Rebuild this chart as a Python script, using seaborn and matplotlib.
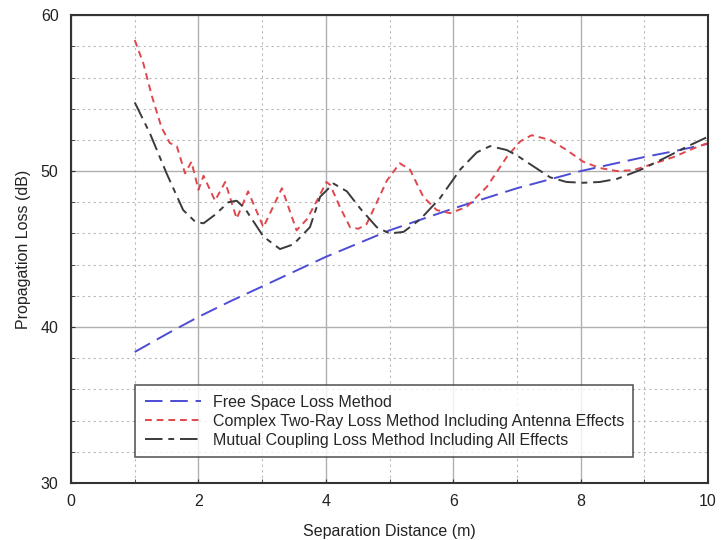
import numpy as np
import pandas as pd
import matplotlib
matplotlib.use("Agg")
import matplotlib.pyplot as plt
from matplotlib.ticker import MultipleLocator
import seaborn as sns

# 读取自图片的数据
free_x = [1.0, 1.5, 2.0, 2.5, 3.0, 3.5, 4.0, 4.5, 5.0, 5.5, 6.0, 6.5, 7.0, 7.5, 8.0, 8.5, 9.0, 9.5, 10.0]
free_y = [38.4, 39.55, 40.65, 41.65, 42.6, 43.55, 44.5, 45.35, 46.2, 46.9, 47.6, 48.25, 48.9, 49.45, 50.0, 50.45, 50.9, 51.3, 51.75]

two_ray_x = [1.0, 1.135, 1.27, 1.42, 1.55, 1.66, 1.79, 1.89, 2.0, 2.08, 2.26, 2.42, 2.6, 2.78, 3.02,
             3.31, 3.54, 3.7, 3.86, 4.01, 4.07, 4.22, 4.38, 4.51, 4.64, 4.96, 5.16, 5.32, 5.53,
             5.74, 5.95, 6.21, 6.53, 6.84, 7.05, 7.23, 7.52, 7.78, 8.04, 8.3, 8.57, 8.83, 9.09,
             9.46, 9.77, 10.0]
two_ray_y = [58.4, 56.9, 54.8, 52.8, 51.8, 51.6, 49.85, 50.6, 48.8, 49.7, 48.1, 49.3, 46.95, 48.7, 46.4,
             48.9, 46.2, 46.9, 48.1, 49.3, 49.1, 47.7, 46.4, 46.3, 46.6, 49.4, 50.5, 50.1, 48.35,
             47.5, 47.3, 47.7, 49.0, 50.9, 51.9, 52.3, 52.0, 51.35, 50.6, 50.2, 50.0, 50.06, 50.4,
             50.9, 51.45, 51.8]

coupling_x = [1.0, 1.24, 1.5, 1.76, 1.95, 2.08, 2.26, 2.47, 2.6, 2.73, 3.02, 3.28, 3.49, 3.75,
              3.91, 4.12, 4.33, 4.54, 4.8, 5.0, 5.22, 5.48, 5.79, 6.11, 6.37, 6.58, 6.84, 7.0,
              7.26, 7.52, 7.78, 8.04, 8.3, 8.57, 8.93, 9.35, 9.66, 10.0]
coupling_y = [54.4, 52.4, 49.85, 47.5, 46.75, 46.65, 47.2, 48.0, 48.1, 47.6, 45.8, 45.0, 45.3, 46.4,
              48.35, 49.2, 48.7, 47.6, 46.4, 46.0, 46.1, 46.9, 48.25, 50.1, 51.2, 51.6, 51.35, 51.0,
              50.3, 49.6, 49.3, 49.25, 49.3, 49.5, 50.06, 50.9, 51.55, 52.2]

labels = ["Free Space Loss Method",
          "Complex Two-Ray Loss Method Including Antenna Effects",
          "Mutual Coupling Loss Method Including All Effects"]

sns.set_style("white")
plt.rcParams['font.family'] = ['Liberation Sans', 'DejaVu Sans']

fig = plt.figure(figsize=(7.25, 5.4), dpi=100)
ax = fig.add_axes([0.098, 0.1056, 0.8786, 0.8664])

sns.lineplot(x=free_x, y=free_y, ax=ax, color="#4c4cd6", lw=1.4, label=labels[0])
sns.lineplot(x=two_ray_x, y=two_ray_y, ax=ax, color="#e0474c", lw=1.4, label=labels[1])
sns.lineplot(x=coupling_x, y=coupling_y, ax=ax, color="#3a3a3a", lw=1.4, label=labels[2])

lines = ax.get_lines()
lines[0].set_dashes([9, 4])
lines[1].set_dashes([3.5, 2.5])
lines[2].set_dashes([9, 3, 3, 3])

ax.set_xlim(0, 10)
ax.set_ylim(30, 60)
ax.xaxis.set_major_locator(MultipleLocator(2))
ax.xaxis.set_minor_locator(MultipleLocator(1))
ax.yaxis.set_major_locator(MultipleLocator(10))
ax.yaxis.set_minor_locator(MultipleLocator(2))
ax.grid(True, which="major", color="#b0b0b0", lw=1.0, ls="-")
ax.grid(True, which="minor", color="#b8b8b8", lw=0.8, ls=(0, (2, 3)))
ax.set_axisbelow(True)

for s in ax.spines.values():
    s.set_color("#333333")
    s.set_linewidth(1.5)
ax.tick_params(which="both", direction="in", colors="#333333", labelcolor="#222222",
               labelsize=11.5, length=3, top=False, right=False, bottom=True, left=True)
ax.tick_params(axis="x", pad=8)
ax.tick_params(axis="y", pad=9)

ax.set_xlabel("Separation Distance (m)", fontsize=11.5, color="#222222", labelpad=11)
ax.set_ylabel("Propagation Loss (dB)", fontsize=11.5, color="#222222", labelpad=7)

leg = ax.legend(loc="upper left", bbox_to_anchor=(0.1005, 0.209), fontsize=11.5,
                frameon=True, fancybox=False, handlelength=3.5, borderpad=0.6,
                labelspacing=0.25, handletextpad=0.75, borderaxespad=0)
leg.get_frame().set_edgecolor("#333333")
leg.get_frame().set_linewidth(1.2)

fig.savefig("out.png", dpi=100)
